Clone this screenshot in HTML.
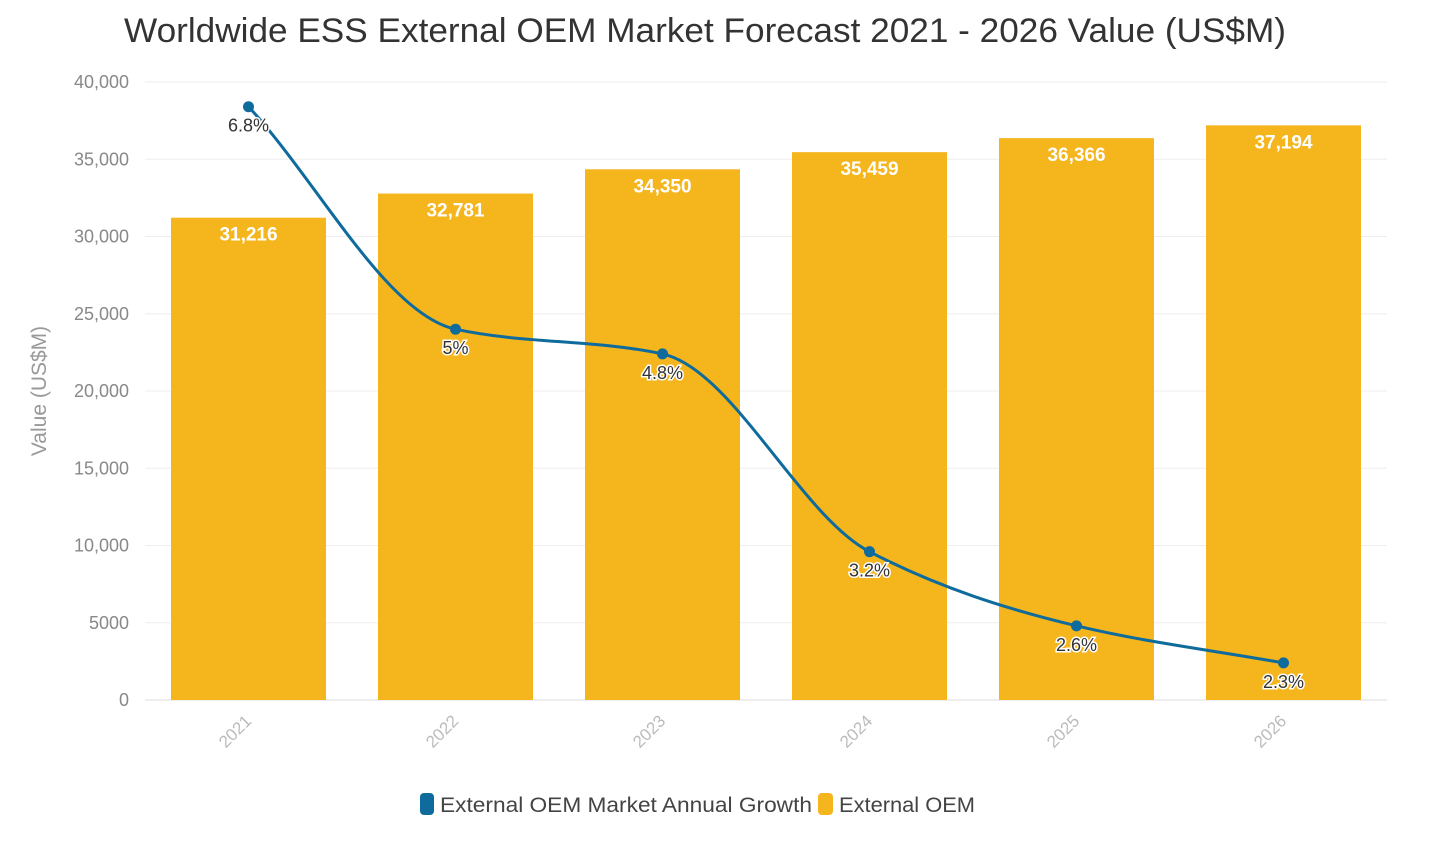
<!DOCTYPE html>
<html><head><meta charset="utf-8"><style>
html,body{margin:0;padding:0;background:#fff;}
svg text{font-family:"Liberation Sans",sans-serif;}
</style></head><body>
<svg id="chart" width="1436" height="842" xmlns="http://www.w3.org/2000/svg">
<text x="705" y="42" text-anchor="middle" font-size="34" fill="#333" textLength="1162" lengthAdjust="spacingAndGlyphs">Worldwide ESS External OEM Market Forecast 2021 - 2026 Value (US$M)</text>
<text transform="translate(46,391) rotate(-90)" text-anchor="middle" font-size="21" fill="#999">Value (US$M)</text>
<g id="grid"></g><g id="bars"></g><g id="line"></g><g id="labels"></g>
<g>
<g><rect x="420" y="793" width="14" height="22" rx="4" fill="#0e6b9c"/><text x="440" y="812" font-size="21" fill="#444" textLength="372" lengthAdjust="spacingAndGlyphs">External OEM Market Annual Growth</text></g>
<g><rect x="818" y="793" width="15" height="22" rx="4" fill="#f5b51c"/><text x="839" y="812" font-size="21" fill="#444" textLength="136" lengthAdjust="spacingAndGlyphs">External OEM</text></g>
</g>
</svg>
<script>
const categories=["2021","2022","2023","2024","2025","2026"];
const oemValues=[31216,32781,34350,35459,36366,37194];
const oemLabels=["31,216","32,781","34,350","35,459","36,366","37,194"];
const growthValues=[6.8,5,4.8,3.2,2.6,2.3];
const growthLabels=["6.8%","5%","4.8%","3.2%","2.6%","2.3%"];
const yTicks=[0,5000,10000,15000,20000,25000,30000,35000,40000];
const yTickLabels=["0","5000","10,000","15,000","20,000","25,000","30,000","35,000","40,000"];
const NS="http://www.w3.org/2000/svg";
const L=145,R=1387,T=82,B=700;
const band=(R-L)/categories.length;
const xC=i=>L+band*(i+0.5);
const y1=v=>B-(v/40000)*(B-T);
const y2=v=>B-((v-2)/5)*(B-T);
function mk(tag,attrs,parent){const e=document.createElementNS(NS,tag);for(const k in attrs)e.setAttribute(k,attrs[k]);parent.appendChild(e);return e;}
const grid=document.getElementById('grid'),bars=document.getElementById('bars'),line=document.getElementById('line'),labels=document.getElementById('labels');
yTicks.forEach((t,i)=>{
 const g=mk('line',{x1:L,x2:R,y1:y1(t),y2:y1(t),stroke:i==0?'#ddd':'#eee','stroke-width':1},grid);
 
 
 const tx=mk('text',{x:129,y:y1(t)+6,'text-anchor':'end','font-size':18,fill:'#888'},grid);
 tx.textContent=yTickLabels[i];
 
 
});
categories.forEach((c,i)=>{
 const x=xC(i);
 const tx=mk('text',{x:x+4,y:722,'text-anchor':'end','font-size':17,fill:'#bbb',transform:`rotate(-45 ${x+4} 722)`},grid);
 tx.textContent=c;
 
 
 const r=mk('rect',{x:x-77.5,y:y1(oemValues[i]),width:155,height:B-y1(oemValues[i]),fill:'#f5b51c'},bars);
 
 
 const bl=mk('text',{x:x,y:y1(oemValues[i])+23,'text-anchor':'middle','font-size':19,'font-weight':'bold',fill:'#fff'},labels);
 bl.textContent=oemLabels[i];
 
 
});
const px=categories.map((c,i)=>xC(i)),py=growthValues.map(v=>y2(v));
const n=px.length,d=[],m=[];
for(let i=0;i<n-1;i++)d.push((py[i+1]-py[i])/(px[i+1]-px[i]));
for(let i=0;i<n;i++){
 if(i==0)m.push(d[0]);else if(i==n-1)m.push(d[n-2]);
 else m.push(d[i-1]*d[i]<=0?0:(2*d[i-1]*d[i])/(d[i-1]+d[i]));
}
let p=`M${px[0]},${py[0]}`;
for(let i=0;i<n-1;i++){const h=(px[i+1]-px[i])/3;p+=` C${px[i]+h},${py[i]+m[i]*h} ${px[i+1]-h},${py[i+1]-m[i+1]*h} ${px[i+1]},${py[i+1]}`;}
const path=mk('path',{d:p,fill:'none',stroke:'#0e6b9c','stroke-width':3},line);


growthValues.forEach((v,i)=>{
 const c=mk('circle',{cx:px[i],cy:py[i],r:5.5,fill:'#0e6b9c'},line);
 
 
 const t=mk('text',{x:px[i],y:py[i]+25,'text-anchor':'middle','font-size':18,fill:'#333',stroke:'#fff','stroke-width':3,'paint-order':'stroke'},labels);
 t.textContent=growthLabels[i];
 
 
});
</script>
</body></html>
